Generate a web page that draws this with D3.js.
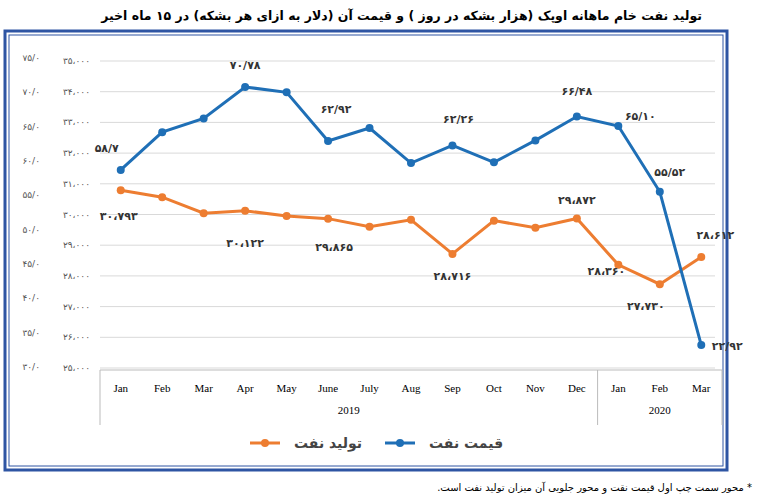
<!DOCTYPE html><html><head><meta charset="utf-8"><script src="https://cdn.jsdelivr.net/npm/d3@7"></script>
<style>body{margin:0;background:#fff;font-family:"DejaVu Sans",sans-serif}</style></head><body><svg id="c" width="760" height="499"></svg>
<script>
const months=["Jan","Feb","Mar","Apr","May","June","July","Aug","Sep","Oct","Nov","Dec","Jan","Feb","Mar"];
const years=[{y:"2019",from:0,to:11},{y:"2020",from:12,to:14}];
const price=[58.7,64.2,66.2,70.78,70.0,62.92,64.8,59.7,62.26,59.8,63.0,66.48,65.10,55.52,33.2];
const priceLabels=["۵۸/۷",null,null,"۷۰/۷۸",null,"۶۲/۹۲",null,null,"۶۲/۲۶",null,null,"۶۶/۴۸","۶۵/۱۰","۵۵/۵۲","۲۲/۹۲"];
const prod=[30793,30565,30044,30122,29950,29865,29600,29830,28716,29800,29570,29872,28360,27730,28612];
const prodLabels=["۳۰،۷۹۳",null,null,"۳۰،۱۲۲",null,"۲۹،۸۶۵",null,null,"۲۸،۷۱۶",null,null,"۲۹،۸۷۲","۲۸،۳۶۰","۲۷،۷۳۰","۲۸،۶۱۲"];
const priceTicks=[30,35,40,45,50,55,60,65,70,75];
const prodTicks=[25000,26000,27000,28000,29000,30000,31000,32000,33000,34000,35000];
const fa=s=>String(s).replace(/\d/g,d=>"۰۱۲۳۴۵۶۷۸۹"[d]);
const svg=d3.select("#c");
const blue="#1f6fb6",orange="#ed7d31";
svg.append("rect").attr("x",5).attr("y",31).attr("width",722).attr("height",439).attr("fill","none").attr("stroke","#2e55a3").attr("stroke-width",3);
svg.append("rect").attr("x",9).attr("y",35).attr("width",714).attr("height",431).attr("fill","none").attr("stroke","#2e55a3").attr("stroke-width",1);
svg.append("text").attr("x",702).attr("y",20).attr("text-anchor","start").attr("direction","rtl").attr("font-weight","bold").attr("font-size",12.5).text("تولید نفت خام ماهانه اوپک (هزار بشکه در روز ) و قیمت آن (دلار به ازای هر بشکه) در ۱۵ ماه اخیر");
svg.append("text").attr("x",752).attr("y",491).attr("text-anchor","start").attr("direction","rtl").attr("font-size",10).text("* محور سمت چپ اول قیمت نقت و محور جلویی آن میزان تولید نفت است.");
const x=d3.scaleBand().domain(d3.range(15)).range([100,722]);
const yP=d3.scaleLinear().domain([25000,35000]).range([368,61]);
const yC=d3.scaleLinear().domain([30,75]).range([367,58]);
svg.append("g").selectAll("line").data(prodTicks).join("line").attr("x1",100).attr("x2",715).attr("y1",d=>yP(d)).attr("y2",d=>yP(d)).attr("stroke","#d9d9d9");
svg.append("g").selectAll("text").data(prodTicks).join("text").attr("x",90).attr("y",d=>yP(d)+3).attr("text-anchor","end").attr("font-size",9).attr("fill","#555").text(d=>fa(d/1000)+"،"+"۰۰۰");
svg.append("g").selectAll("text").data(priceTicks).join("text").attr("x",40).attr("y",d=>yC(d)+3).attr("text-anchor","end").attr("font-size",9).attr("fill","#555").text(d=>fa(d)+"/۰");
const bx=svg.append("g");
bx.append("line").attr("x1",100).attr("x2",722).attr("y1",370).attr("y2",370).attr("stroke","#bbb");
[0,12,15].forEach(i=>{const xx=i<15?x(i):722;bx.append("line").attr("x1",xx).attr("x2",xx).attr("y1",370).attr("y2",425).attr("stroke","#bbb");});
bx.selectAll("text.m").data(months).join("text").attr("x",(d,i)=>x(i)+x.bandwidth()/2).attr("y",392).attr("text-anchor","middle").attr("font-family","Liberation Serif,serif").attr("font-size",11).text(d=>d);
years.forEach(o=>bx.append("text").attr("x",(x(o.from)+x(o.to)+x.bandwidth())/2).attr("y",414).attr("text-anchor","middle").attr("font-family","Liberation Serif,serif").attr("font-size",11).text(o.y));
const cx=i=>x(i)+x.bandwidth()/2;
function series(vals,y,col){
 svg.append("path").datum(vals).attr("fill","none").attr("stroke",col).attr("stroke-width",3).attr("d",d3.line().x((d,i)=>cx(i)).y(d=>y(d)));
 svg.append("g").selectAll("circle").data(vals).join("circle").attr("cx",(d,i)=>cx(i)).attr("cy",d=>y(d)).attr("r",4).attr("fill",col);
}
series(prod,yP,orange);series(price,yC,blue);
const pOff=[[-14,-18],0,0,[0,-18],0,[8,-28],0,0,[6,-22],0,0,[0,-22],[22,-6],[10,-16],[26,5]];
priceLabels.forEach((t,i)=>{if(!t)return;const [dx,dy]=pOff[i];svg.append("text").attr("x",cx(i)+dx).attr("y",yC(price[i])+dy).attr("text-anchor","middle").attr("font-weight","bold").attr("font-size",11).attr("fill","#333").text(t);});
const qOff=[[-2,30],0,0,[0,36],0,[6,32],0,0,[0,26],0,0,[0,-14],[-12,10],[-14,26],[14,-18]];
prodLabels.forEach((t,i)=>{if(!t)return;const [dx,dy]=qOff[i];svg.append("text").attr("x",cx(i)+dx).attr("y",yP(prod[i])+dy).attr("text-anchor","middle").attr("font-weight","bold").attr("font-size",11).attr("fill","#333").text(t);});
const lg=[{t:"تولید نفت",c:orange,x:250},{t:"قیمت نفت",c:blue,x:385}];
lg.forEach(o=>{svg.append("line").attr("x1",o.x).attr("x2",o.x+30).attr("y1",443).attr("y2",443).attr("stroke",o.c).attr("stroke-width",3);
svg.append("circle").attr("cx",o.x+15).attr("cy",443).attr("r",4).attr("fill",o.c);
svg.append("text").attr("x",o.x+44).attr("y",448).attr("font-size",14).attr("font-weight","bold").attr("fill","#444").text(o.t);});
</script></body></html>
